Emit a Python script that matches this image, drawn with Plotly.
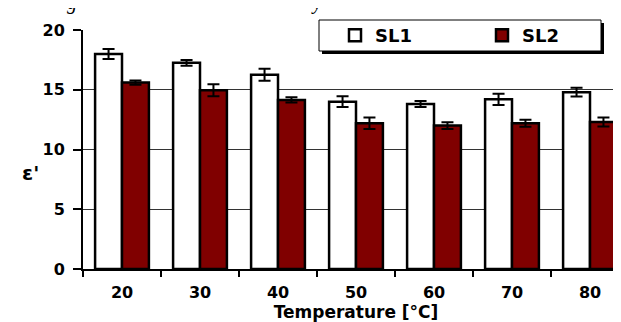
import plotly.graph_objects as go

categories = ["20", "30", "40", "50", "60", "70", "80"]
sl1_values = [18.0, 17.25, 16.25, 14.0, 13.8, 14.2, 14.8]
sl1_errors = [0.42, 0.25, 0.5, 0.45, 0.25, 0.47, 0.37]
sl2_values = [15.6, 14.95, 14.15, 12.2, 12.0, 12.2, 12.3]
sl2_errors = [0.18, 0.5, 0.22, 0.48, 0.28, 0.3, 0.37]
y_ticks = [0, 5, 10, 15, 20]

W, H = 621, 322
L, R, T, B = 75, 0, 22, 61
pw, ph = W - L - R, H - T - B

def px(x):
    return (x - L) / pw

def py(y):
    return (H - B - y) / ph

FONT = "DejaVu Sans, sans-serif"

fig = go.Figure()
fig.add_trace(go.Bar(
    name="SL1", x=categories, y=sl1_values,
    marker=dict(color="white", line=dict(color="black", width=2.5)),
    error_y=dict(type="data", array=sl1_errors, color="black", thickness=2, width=6),
))
fig.add_trace(go.Bar(
    name="SL2", x=categories, y=sl2_values,
    marker=dict(color="#800000", line=dict(color="black", width=2.5)),
    error_y=dict(type="data", array=sl2_errors, color="black", thickness=2, width=6),
))

shapes = [
    dict(type="rect", xref="paper", yref="paper",
         x0=px(314), x1=px(596), y0=py(46), y1=py(15),
         fillcolor="black", line=dict(width=0), layer="above"),
    dict(type="rect", xref="paper", yref="paper",
         x0=px(311), x1=px(593), y0=py(43), y1=py(12),
         fillcolor="white", line=dict(color="black", width=1), layer="above"),
]

annotations = [
    dict(text="ε'", xref="paper", yref="paper", x=px(22), y=py(165),
         showarrow=False, font=dict(family=FONT, size=20, color="black", weight="bold"),
         xanchor="center", yanchor="middle"),
    dict(text="g", xref="paper", yref="paper", x=px(64), y=py(8),
         showarrow=False, font=dict(family="Liberation Serif, serif", size=20, color="black", style="italic"),
         xanchor="center", yanchor="bottom"),
    dict(text="y", xref="paper", yref="paper", x=px(308), y=py(8),
         showarrow=False, font=dict(family="Liberation Serif, serif", size=20, color="black", style="italic"),
         xanchor="center", yanchor="bottom"),
]

fig.update_layout(
    width=W, height=H,
    margin=dict(l=L, r=R, t=T, b=B, pad=0),
    paper_bgcolor="white", plot_bgcolor="white",
    barmode="group", bargap=0.31, bargroupgap=0,
    font=dict(family=FONT, color="black"),
    showlegend=True,
    legend=dict(orientation="h", x=px(327), y=py(27.5), xanchor="left", yanchor="middle",
                bgcolor="rgba(0,0,0,0)", borderwidth=0,
                font=dict(family=FONT, size=18, color="black", weight="bold"),
                entrywidth=102, entrywidthmode="pixels",
                itemclick=False),
    shapes=shapes,
    annotations=annotations,
    xaxis=dict(
        type="category", range=[-0.5, 6.5],
        showline=True, linecolor="black", linewidth=2,
        ticks="outside", tickson="boundaries", ticklen=6, tickwidth=2, tickcolor="black",
        showgrid=False,
        tickfont=dict(family=FONT, size=16, color="black", weight="bold"),
        ticklabelstandoff=8,
        title=dict(text="Temperature [°C]", font=dict(family=FONT, size=17, color="black", weight="bold"), standoff=3),
    ),
    yaxis=dict(
        range=[0, 20], tickvals=y_ticks,
        showline=True, linecolor="black", linewidth=2,
        ticks="outside", ticklen=8, tickwidth=1.5, tickcolor="black",
        showgrid=True, gridcolor="#333333", gridwidth=1,
        zeroline=False,
        tickfont=dict(family=FONT, size=16, color="black", weight="bold"),
        ticklabelstandoff=5,
    ),
)

fig.write_html("out.html")
